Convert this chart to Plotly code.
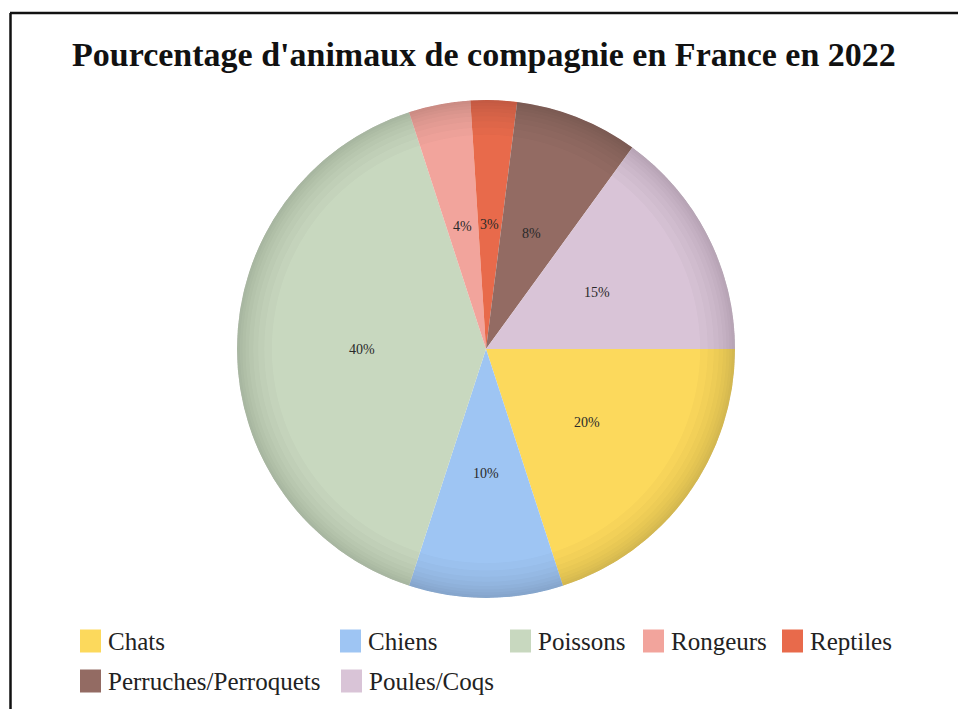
import math
import plotly.graph_objects as go

# Répartition des animaux de compagnie (en %)
categories = ["Chats", "Chiens", "Poissons", "Rongeurs", "Reptiles",
              "Perruches/Perroquets", "Poules/Coqs"]
values = [20, 10, 40, 4, 3, 8, 15]
colors = ["#FCD95C", "#9EC5F3", "#C8D8BF", "#F2A49C", "#E86A4B",
          "#936B63", "#D9C4D7"]

TITLE = "Pourcentage d'animaux de compagnie en France en 2022"

W, H = 958, 709
CX, CY, R = 486, 349, 249          # pie centre and radius (px)
START = 90                          # first slice starts at 3 o'clock
SERIF = "Liberation Serif, Times New Roman, serif"


def px_x(x):
    return x / W


def px_y(y):
    return 1 - y / H


domain = dict(x=[px_x(CX - R), px_x(CX + R)], y=[px_y(CY + R), px_y(CY - R)])

fig = go.Figure()
fig.add_trace(go.Pie(
    labels=categories,
    values=values,
    marker=dict(colors=colors, line=dict(width=0)),
    sort=False,
    direction="clockwise",
    rotation=START,
    textinfo="none",
    showlegend=False,
    domain=domain,
))

# darker rim: stacked translucent rings give a soft edge shading
for hole in [0.86, 0.89, 0.915, 0.935, 0.952, 0.966, 0.978, 0.988]:
    fig.add_trace(go.Pie(
        values=[1],
        hole=hole,
        marker=dict(colors=["rgba(60,40,30,0.022)"], line=dict(width=0)),
        textinfo="none",
        hoverinfo="skip",
        showlegend=False,
        sort=False,
        domain=domain,
    ))

annotations = []

# percentage labels at half radius in the middle of each slice
total = sum(values)
cum = 0
for v in values:
    theta = math.radians(START + 360 * (cum + v / 2) / total)
    lx = CX + 0.5 * R * math.sin(theta)
    ly = CY - 0.5 * R * math.cos(theta)
    annotations.append(dict(
        x=px_x(lx), y=px_y(ly), xref="paper", yref="paper",
        text=f"{round(100 * v / total)}%", showarrow=False,
        font=dict(family=SERIF, size=14, color="#2a2a2a"),
        xanchor="center", yanchor="middle",
    ))
    cum += v

# title
annotations.append(dict(
    x=px_x(484), y=px_y(55), xref="paper", yref="paper",
    text=f"<b>{TITLE}</b>", showarrow=False,
    font=dict(family=SERIF, size=34, color="#111111"),
    xanchor="center", yanchor="middle",
))

# legend laid out in two rows of columns
legend_pos = [(80, 641), (340, 641), (510, 641), (643, 641), (782, 641),
              (80, 681), (341, 681)]
SW = 21
shapes = []
for name, col, (lx, ly) in zip(categories, colors, legend_pos):
    shapes.append(dict(
        type="rect", xref="paper", yref="paper",
        x0=px_x(lx), x1=px_x(lx + SW), y0=px_y(ly + SW / 2 + 1), y1=px_y(ly - SW / 2 - 1),
        fillcolor=col, line=dict(width=0),
    ))
    annotations.append(dict(
        x=px_x(lx + SW + 5), y=px_y(ly), xref="paper", yref="paper",
        text=name, showarrow=False,
        font=dict(family=SERIF, size=25, color="#222222"),
        xanchor="left", yanchor="middle",
    ))

# frame lines
shapes.append(dict(type="line", xref="paper", yref="paper",
                   x0=px_x(10), x1=1, y0=px_y(13), y1=px_y(13),
                   line=dict(color="#111111", width=2.5)))
shapes.append(dict(type="line", xref="paper", yref="paper",
                   x0=px_x(10.5), x1=px_x(10.5), y0=px_y(13), y1=0,
                   line=dict(color="#111111", width=2.5)))

fig.update_layout(
    width=W, height=H,
    margin=dict(l=0, r=0, t=0, b=0),
    paper_bgcolor="white",
    plot_bgcolor="white",
    annotations=annotations,
    shapes=shapes,
)

fig.write_html("out.html")
